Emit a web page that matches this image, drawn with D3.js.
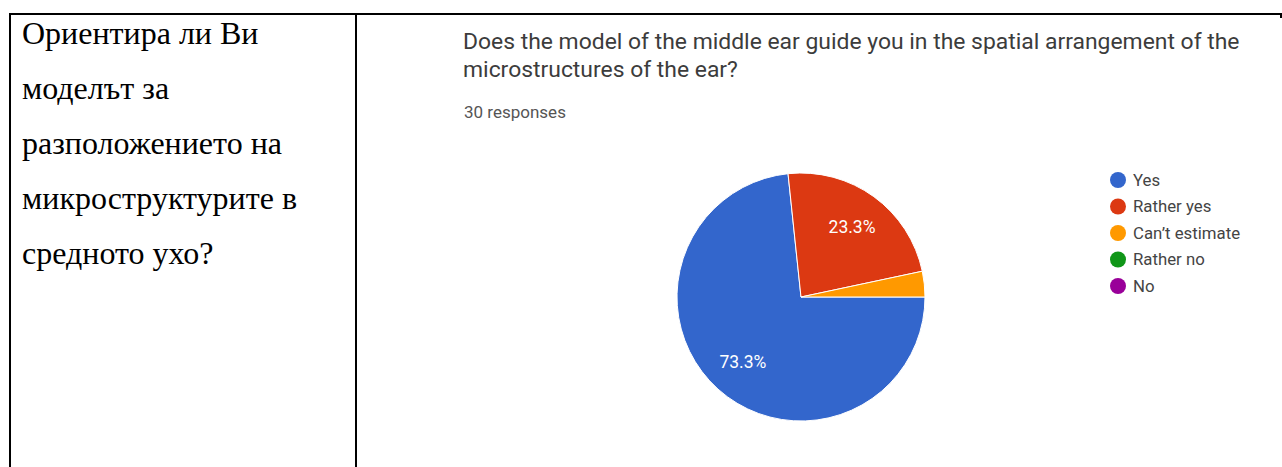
<!DOCTYPE html>
<html>
<head>
<meta charset="utf-8">
<script src="https://cdn.jsdelivr.net/npm/d3@7"></script>
<style>
  html, body { margin: 0; padding: 0; background: #fff; }
  svg { display: block; }
</style>
</head>
<body>
<svg id="chart" width="1282" height="467"></svg>
<script>
// ---- data ----
const questionLines = ["Ориентира ли Ви", "моделът за", "разположението на", "микроструктурите в", "средното ухо?"];
const titleLines = ["Does the model of the middle ear guide you in the spatial arrangement of the", "microstructures of the ear?"];
const responsesLabel = "30 responses";
const categories = ["Yes", "Rather yes", "Can’t estimate", "Rather no", "No"];
const counts = [22, 7, 1, 0, 0];
const colors = ["#3366cc", "#dc3912", "#ff9900", "#109618", "#990099"];

const svg = d3.select("#chart");

// ---- table borders ----
const border = svg.append("g").attr("stroke", "#000").attr("stroke-width", 2);
border.append("line").attr("x1", 9).attr("x2", 1282).attr("y1", 14).attr("y2", 14);
border.append("line").attr("x1", 10).attr("x2", 10).attr("y1", 13).attr("y2", 467);
border.append("line").attr("x1", 356).attr("x2", 356).attr("y1", 13).attr("y2", 467);
border.append("line").attr("x1", 1281).attr("x2", 1281).attr("y1", 13).attr("y2", 18);

// ---- left cell question ----
svg.append("g")
  .selectAll("text")
  .data(questionLines)
  .join("text")
  .attr("x", 22)
  .attr("y", (d, i) => 44 + i * 55)
  .attr("font-family", "'Liberation Serif', 'Times New Roman', serif")
  .attr("font-size", 32)
  .attr("fill", "#000")
  .text(d => d);

// ---- title ----
svg.append("g")
  .selectAll("text")
  .data(titleLines)
  .join("text")
  .attr("x", 463)
  .attr("y", (d, i) => 49 + i * 28)
  .attr("font-family", "Roboto, Arial, sans-serif")
  .attr("font-size", 22.9)
  .attr("fill", "#3c3c3c")
  .text(d => d);

svg.append("text")
  .attr("x", 464)
  .attr("y", 118)
  .attr("font-family", "Roboto, Arial, sans-serif")
  .attr("font-size", 17)
  .attr("fill", "#555")
  .text(responsesLabel);

// ---- pie ----
const data = categories.map((c, i) => ({ cat: c, value: counts[i], color: colors[i] }));
const total = d3.sum(counts);
const cx = 801, cy = 297, r = 124;

const pie = d3.pie().sort(null).value(d => d.value)
  .startAngle(Math.PI / 2).endAngle(Math.PI / 2 + 2 * Math.PI);
const arcs = pie(data).filter(a => a.data.value > 0);
const arc = d3.arc().innerRadius(0).outerRadius(r);
const labelArc = d3.arc().innerRadius(r * 0.7).outerRadius(r * 0.7);

const g = svg.append("g").attr("transform", `translate(${cx},${cy})`);
g.selectAll("path")
  .data(arcs)
  .join("path")
  .attr("d", arc)
  .attr("fill", d => d.data.color)
  .attr("stroke", "#fff")
  .attr("stroke-width", 1);

const fmt = d3.format(".1%");
g.selectAll("text")
  .data(arcs.filter(a => a.data.value / total >= 0.05))
  .join("text")
  .attr("transform", d => `translate(${labelArc.centroid(d)})`)
  .attr("text-anchor", "middle")
  .attr("dy", "0.35em")
  .attr("font-family", "Roboto, Arial, sans-serif")
  .attr("font-size", 17.5)
  .attr("fill", "#fff")
  .text(d => fmt(d.data.value / total));

// ---- legend ----
const legend = svg.append("g")
  .selectAll("g")
  .data(data)
  .join("g")
  .attr("transform", (d, i) => `translate(1118, ${180 + i * 26.5})`);
legend.append("circle").attr("r", 8).attr("fill", d => d.color);
legend.append("text")
  .attr("x", 15)
  .attr("dy", "0.35em")
  .attr("font-family", "Roboto, Arial, sans-serif")
  .attr("font-size", 16.8)
  .attr("fill", "#444")
  .text(d => d.cat);
</script>
</body>
</html>
